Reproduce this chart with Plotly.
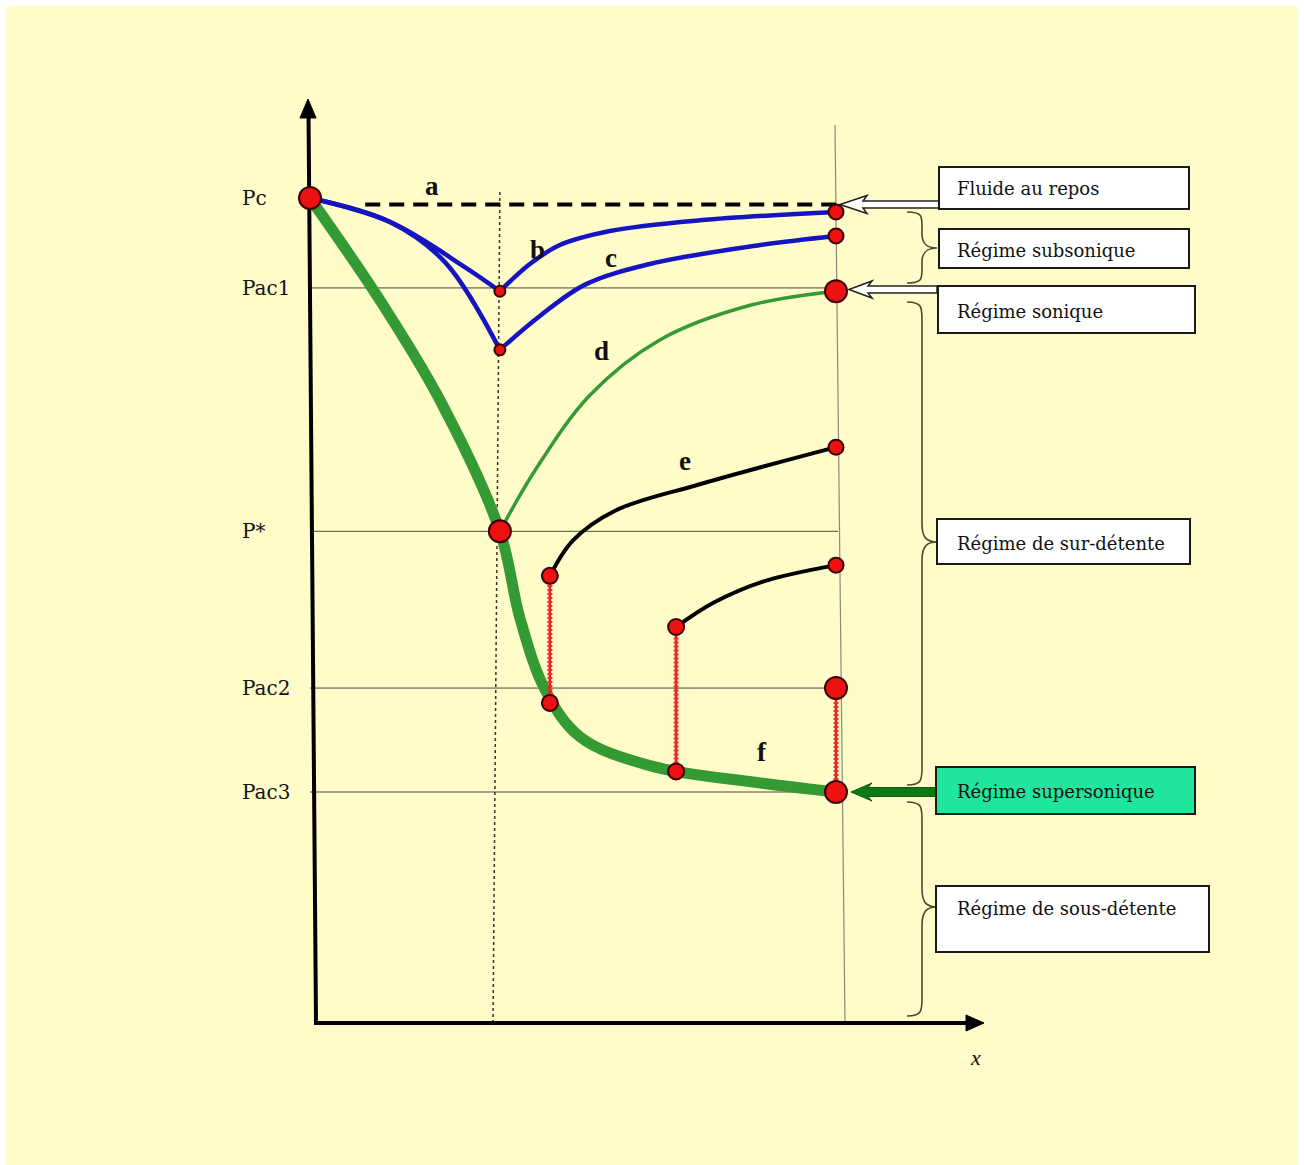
import plotly.graph_objects as go

W, H = 1304, 1165

# ---------------- data (x: position along the nozzle, p: pressure, % of Pc) ----------------
level_names = ["Pc", "Pac1", "P*", "Pac2", "Pac3"]
level_values = [100.0, 89.1, 59.6, 40.6, 28.0]
x_throat = 36.1
x_exit = 100.0
p_rest = 99.2
x_rest_start = 10.5

curve_b_x = [0.0, 15.2, 29.5, 36.1, 41.8, 47.5, 57.0, 74.1, 100.0]
curve_b_p = [100.0, 97.1, 91.6, 88.7, 92.0, 94.3, 96.0, 97.3, 98.3]

curve_c_x = [0.0, 15.2, 25.7, 36.1, 43.7, 52.3, 64.6, 85.6, 100.0]
curve_c_p = [100.0, 97.1, 92.2, 81.6, 85.7, 89.5, 92.0, 94.3, 95.4]

curve_d_x = [36.1, 42.8, 53.2, 66.5, 83.7, 100.0]
curve_d_p = [59.6, 67.0, 76.1, 82.8, 87.0, 88.7]

curve_f_x = [0.0, 13.3, 24.7, 36.1, 39.9, 44.7, 51.3, 64.6, 85.6, 100.0]
curve_f_p = [100.0, 87.6, 75.5, 59.6, 49.1, 40.4, 34.7, 31.2, 29.1, 28.0]

curve_e_x = [45.6, 50.0, 58.0, 74.1, 100.0]
curve_e_p = [54.2, 58.5, 62.1, 65.3, 69.8]

curve_g_x = [69.6, 76.6, 86.1, 100.0]
curve_g_p = [48.0, 50.9, 53.5, 55.5]

shock_x = [45.6, 69.6, 100.0]
shock_p_low = [38.8, 30.5, 28.0]
shock_p_high = [54.2, 48.0, 40.6]

big_x = [0.0, 36.1, 100.0, 100.0, 100.0]
big_p = [100.0, 59.6, 88.7, 40.6, 28.0]
mid_x = [45.6, 45.6, 69.6, 69.6]
mid_p = [54.2, 38.8, 48.0, 30.5]
end_x = [100.0, 100.0, 100.0, 100.0]
end_p = [98.3, 95.4, 69.8, 55.5]
throat_x = [36.1, 36.1]
throat_p = [88.7, 81.6]

curve_letters = ["a", "b", "c", "d", "e", "f"]
letter_x = [23.2, 43.3, 57.2, 55.5, 71.3, 85.9]
letter_p = [101.5, 93.7, 92.7, 81.4, 68.1, 32.8]

box_texts = ["Fluide au repos", "Régime subsonique", "Régime sonique",
             "Régime de sur-détente", "Régime supersonique", "Régime de sous-détente"]

# ---------------- geometry helpers (pixel -> data) ----------------
PX0, SX = 310.0, 5.26
PY0, SY = 1023.0, 8.25


def dx(px):
    return (px - PX0) / SX


def dy(py):
    return (PY0 - py) / SY


def path_px(points, close=True):
    s = "M " + " L ".join(f"{dx(a):.3f},{dy(b):.3f}" for a, b in points)
    return s + (" Z" if close else "")


FONT = "DejaVu Serif"
INK = "#111111"
RED = "#ee1111"
RED_EDGE = "#3a0000"
BLUE = "#1414c0"
GREEN = "#349a34"

fig = go.Figure()

shapes = []
# background
shapes.append(dict(type="rect", xref="paper", yref="paper", x0=6 / W, x1=1298 / W, y0=0, y1=1 - 6 / H,
                   fillcolor="#FFFCCA", line=dict(width=0), layer="below"))

# horizontal level lines
for v in level_values[1:]:
    shapes.append(dict(type="line", xref="x", yref="y", x0=0, x1=x_exit + 0.4, y0=v, y1=v,
                       line=dict(color="#4a4a3a", width=1), layer="below"))
# right vertical line
shapes.append(dict(type="line", xref="x", yref="y", x0=dx(835), x1=dx(845), y0=dy(125), y1=dy(1023),
                   line=dict(color="#8a8a7a", width=1.2), layer="below"))
# throat dotted line
shapes.append(dict(type="line", xref="x", yref="y", x0=x_throat, x1=dx(493), y0=dy(192), y1=dy(1023),
                   line=dict(color="#333333", width=1.5, dash="dot"), layer="below"))
# rest-state dashed line (a)
shapes.append(dict(type="line", xref="x", yref="y", x0=x_rest_start, x1=x_exit, y0=p_rest, y1=p_rest,
                   line=dict(color="#000000", width=4, dash="15px,9px"), layer="below"))
# axes
shapes.append(dict(type="line", xref="x", yref="y", x0=dx(316), x1=dx(308.5), y0=dy(1023), y1=dy(112),
                   line=dict(color="#000000", width=4), layer="below"))
shapes.append(dict(type="line", xref="x", yref="y", x0=dx(314), x1=dx(970), y0=dy(1023), y1=dy(1023),
                   line=dict(color="#000000", width=4), layer="below"))
shapes.append(dict(type="path", xref="x", yref="y", path=path_px([(308, 99), (300, 118), (316, 118)]),
                   fillcolor="#000000", line=dict(color="#000000", width=1), layer="below"))
shapes.append(dict(type="path", xref="x", yref="y", path=path_px([(984, 1023), (966, 1015), (966, 1031)]),
                   fillcolor="#000000", line=dict(color="#000000", width=1), layer="below"))


# braces
def brace(ytop, ybot, ytip, x0=907, x1=922, x2=937, r=18):
    pts = (f"M {dx(x0):.3f},{dy(ytop):.3f} "
           f"C {dx(x1):.3f},{dy(ytop):.3f} {dx(x1):.3f},{dy(ytop + r * 0.3):.3f} {dx(x1):.3f},{dy(ytop + r):.3f} "
           f"L {dx(x1):.3f},{dy(ytip - r):.3f} "
           f"C {dx(x1):.3f},{dy(ytip - 3):.3f} {dx(x1 + 6):.3f},{dy(ytip):.3f} {dx(x2):.3f},{dy(ytip):.3f} "
           f"C {dx(x1 + 6):.3f},{dy(ytip):.3f} {dx(x1):.3f},{dy(ytip + 3):.3f} {dx(x1):.3f},{dy(ytip + r):.3f} "
           f"L {dx(x1):.3f},{dy(ybot - r):.3f} "
           f"C {dx(x1):.3f},{dy(ybot - r * 0.3):.3f} {dx(x1):.3f},{dy(ybot):.3f} {dx(x0):.3f},{dy(ybot):.3f}")
    return dict(type="path", xref="x", yref="y", path=pts, line=dict(color="#4a4a30", width=1.6),
                layer="below")


shapes.append(brace(212, 283, 248, r=14))
shapes.append(brace(302, 785, 542))
shapes.append(brace(802, 1016, 907))


# block arrows
def block_arrow(tx, ty, hb, hh, sh, se):
    return [(tx, ty), (hb, ty - hh), (hb - 4, ty - sh), (se, ty - sh), (se, ty + sh), (hb - 4, ty + sh),
            (hb, ty + hh)]


shapes.append(dict(type="path", xref="x", yref="y", path=path_px(block_arrow(840, 204.5, 867, 9, 3.5, 940)),
                   fillcolor="#ffffff", line=dict(color="#222222", width=1.5), layer="below"))
shapes.append(dict(type="path", xref="x", yref="y", path=path_px(block_arrow(849, 289.5, 872, 8.5, 3.5, 937)),
                   fillcolor="#ffffff", line=dict(color="#222222", width=1.5), layer="below"))
shapes.append(dict(type="path", xref="x", yref="y", path=path_px(block_arrow(851, 792, 872, 9, 4.5, 937)),
                   fillcolor="#0b7a12", line=dict(color="#0b5a10", width=1), layer="below"))

# boxes
boxes = [(939, 167, 1189, 209, "#ffffff", 188),
         (939, 229, 1189, 268, "#ffffff", 250),
         (938, 286, 1195, 333, "#ffffff", 311),
         (937, 519, 1190, 564, "#ffffff", 543),
         (936, 767, 1195, 814, "#1fe69c", 791),
         (936, 886, 1209, 952, "#ffffff", 908)]
annotations = []
for (bx0, by0, bx1, by1, fc, ty), txt in zip(boxes, box_texts):
    shapes.append(dict(type="rect", xref="x", yref="y", x0=dx(bx0), x1=dx(bx1), y0=dy(by1), y1=dy(by0),
                       fillcolor=fc, line=dict(color="#1a1a1a", width=2), layer="above"))
    annotations.append(dict(x=dx(955), y=dy(ty), xref="x", yref="y", text=txt, showarrow=False,
                            xanchor="left", yanchor="middle",
                            font=dict(family=FONT, size=18, color=INK)))


# ---------------- traces ----------------
def add_line(xs, ps, color, width, shape="spline"):
    fig.add_trace(go.Scatter(x=xs, y=ps, mode="lines", line=dict(color=color, width=width, shape=shape,
                                                                  smoothing=1.0),
                             hoverinfo="skip", showlegend=False))


# thick green main curve
add_line(curve_f_x, curve_f_p, GREEN, 11)
# blue curves split at the throat (sharp V)
for cx, cp in ((curve_b_x, curve_b_p), (curve_c_x, curve_c_p)):
    k = cx.index(x_throat)
    add_line(cx[:k + 1], cp[:k + 1], BLUE, 4.5)
    add_line(cx[k:], cp[k:], BLUE, 4.5)
add_line(curve_d_x, curve_d_p, GREEN, 3.5)
add_line(curve_e_x, curve_e_p, "#000000", 4)
add_line(curve_g_x, curve_g_p, "#000000", 4)

# shocks (red wavy vertical lines)
for sx, lo, hi in zip(shock_x, shock_p_low, shock_p_high):
    fig.add_trace(go.Scatter(x=[sx, sx], y=[lo, hi], mode="lines", line=dict(color=RED, width=2.5),
                             hoverinfo="skip", showlegend=False))
    fig.add_trace(go.Scatter(x=[sx, sx], y=[lo, hi], mode="lines",
                             line=dict(color="#f03030", width=5, dash="2px,2px"),
                             hoverinfo="skip", showlegend=False))

# points
for xs, ps, size in ((big_x, big_p, 22), (mid_x, mid_p, 16), (end_x, end_p, 15), (throat_x, throat_p, 11)):
    fig.add_trace(go.Scatter(x=xs, y=ps, mode="markers",
                             marker=dict(size=size, color=RED, line=dict(color=RED_EDGE, width=2)),
                             hoverinfo="skip", showlegend=False))

# level labels
for name, v in zip(level_names, level_values):
    annotations.append(dict(x=dx(240), y=v, xref="x", yref="y", text=name, showarrow=False,
                            xanchor="left", yanchor="middle", font=dict(family=FONT, size=20, color=INK)))
# curve letters
for t, lx, lp in zip(curve_letters, letter_x, letter_p):
    annotations.append(dict(x=lx, y=lp, xref="x", yref="y", text=f"<b>{t}</b>", showarrow=False,
                            xanchor="center", yanchor="middle",
                            font=dict(family="Liberation Serif", size=27, color=INK)))
# x axis label
annotations.append(dict(x=dx(975), y=dy(1057), xref="x", yref="y", text="<i>x</i>", showarrow=False,
                        xanchor="center", yanchor="middle", font=dict(family="Liberation Serif", size=22, color=INK)))

fig.update_layout(
    width=W, height=H,
    margin=dict(l=0, r=0, t=0, b=0),
    paper_bgcolor="#ffffff", plot_bgcolor="rgba(0,0,0,0)",
    xaxis=dict(range=[dx(0), dx(W)], visible=False, fixedrange=True),
    yaxis=dict(range=[dy(H), dy(0)], visible=False, fixedrange=True),
    shapes=shapes, annotations=annotations,
    showlegend=False,
)

fig.write_html("out.html", config={"displayModeBar": False},
               post_script="document.body.style.margin='0';document.body.style.overflow='hidden';")
